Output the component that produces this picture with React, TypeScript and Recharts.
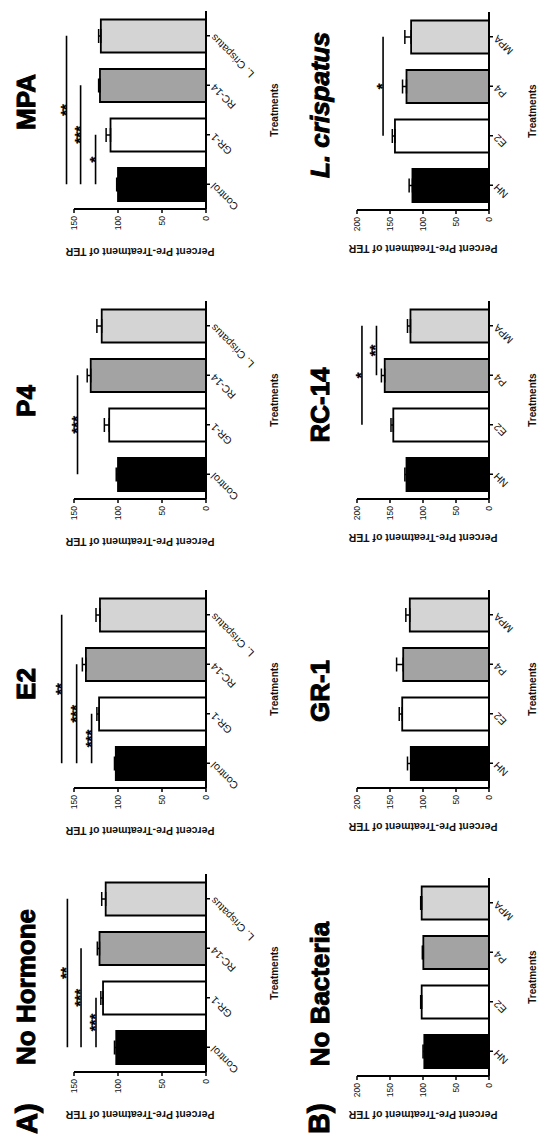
import { BarChart, Bar, XAxis, YAxis, ErrorBar, Cell, ReferenceLine } from "recharts";

// categories
const treatments = ["Control", "GR-1", "RC-14", "L. Crispatus"];
const hormones = ["NH", "E2", "P4", "MPA"];
const barFills = ["#000000", "#ffffff", "#a3a3a3", "#d4d4d4"];

// row A: hormone treatments, bars = bacteria
const noHormoneMean = [102, 117, 121, 114];
const noHormoneErr = [2, 2.5, 2.5, 4.5];
const e2Mean = [102.5, 121.5, 136.5, 120.5];
const e2Err = [1.5, 2.5, 4, 4.5];
const p4Mean = [100, 110, 131, 118.5];
const p4Err = [2, 5.5, 4, 5.5];
const mpaMean = [100, 108.5, 120.5, 119.5];
const mpaErr = [1.5, 5, 1.5, 2.5];

// row B: bacteria, bars = hormones
const noBacteriaMean = [98, 102, 99.5, 102];
const noBacteriaErr = [2, 1.5, 1.5, 1.5];
const gr1Mean = [118.5, 131.5, 130, 120];
const gr1Err = [5, 4.5, 10, 6];
const rc14Mean = [125, 145, 158, 119];
const rc14Err = [2.5, 3.5, 5, 4.5];
const lcrisMean = [116, 142.5, 125, 118];
const lcrisErr = [5, 4, 6, 9.5];

const ticksA = [0, 50, 100, 150];
const ticksB = [0, 50, 100, 150, 200];

type Sig = { from: string; to: string; y: number; label: string };

const noHormoneSig: Sig[] = [
  { from: "Control", to: "GR-1", y: 125, label: "***" },
  { from: "Control", to: "RC-14", y: 142, label: "***" },
  { from: "Control", to: "L. Crispatus", y: 157.5, label: "**" },
];
const e2Sig: Sig[] = [
  { from: "Control", to: "GR-1", y: 130, label: "***" },
  { from: "Control", to: "RC-14", y: 147, label: "***" },
  { from: "Control", to: "L. Crispatus", y: 164, label: "**" },
];
const p4Sig: Sig[] = [{ from: "Control", to: "RC-14", y: 146, label: "***" }];
const mpaSig: Sig[] = [
  { from: "Control", to: "GR-1", y: 125.5, label: "*" },
  { from: "Control", to: "RC-14", y: 142.5, label: "***" },
  { from: "Control", to: "L. Crispatus", y: 158.5, label: "**" },
];
const rc14Sig: Sig[] = [
  { from: "P4", to: "MPA", y: 170.5, label: "**" },
  { from: "E2", to: "MPA", y: 192.5, label: "*" },
];
const lcrisSig: Sig[] = [{ from: "E2", to: "MPA", y: 160.5, label: "*" }];

const build = (cats: string[], mean: number[], err: number[]) =>
  cats.map((name, i) => ({ name, value: mean[i], err: [0, err[i]] }));

const PLOT_W = 198;
const PLOT_H = 132;
const font = "'Liberation Sans', Arial, sans-serif";

const CatTick = (props: any) => {
  const { x, y, payload } = props;
  return (
    <text
      x={x}
      y={y}
      dy={3}
      transform={`rotate(-45 ${x} ${y})`}
      textAnchor="end"
      fontSize={10.5}
      fontFamily={font}
      fill="#111"
    >
      {payload.value}
    </text>
  );
};

function Panel({ x0, top, data, max, ticks, sigs }: any) {
  return (
    <div style={{ position: "absolute", left: x0 - 45, top: top - 30 }}>
      <BarChart
        width={45 + PLOT_W + 10}
        height={30 + PLOT_H + 50}
        data={data}
        margin={{ top: 30, right: 10, bottom: 0, left: 5 }}
        barSize={33}
      >
        <YAxis
          type="number"
          domain={[0, max]}
          ticks={ticks}
          width={40}
          tickSize={4}
          tickMargin={3}
          axisLine={{ stroke: "#000", strokeWidth: 2 }}
          tickLine={{ stroke: "#000", strokeWidth: 1.5 }}
          tick={{ fontSize: 8.5, fill: "#111", fontFamily: font }}
        />
        <XAxis
          dataKey="name"
          type="category"
          interval={0}
          height={50}
          tickSize={4}
          tickMargin={3}
          axisLine={{ stroke: "#000", strokeWidth: 2 }}
          tickLine={{ stroke: "#000", strokeWidth: 1.5 }}
          tick={<CatTick />}
        />
        <Bar dataKey="value" stroke="#000" strokeWidth={1.8} isAnimationActive={false}>
          {data.map((d: any, i: number) => (
            <Cell key={d.name} fill={barFills[i]} />
          ))}
          <ErrorBar dataKey="err" width={7} stroke="#000" strokeWidth={1.5} isAnimationActive={false} />
        </Bar>
        {sigs.map((s: Sig) => (
          <ReferenceLine
            key={s.from + s.to}
            segment={[
              { x: s.from, y: s.y },
              { x: s.to, y: s.y },
            ]}
            stroke="#000"
            strokeWidth={1.6}
            ifOverflow="visible"
            label={{
              value: s.label,
              position: "top",
              offset: -4,
              fontSize: 15,
              fontWeight: "bold",
              fill: "#000",
              stroke: "#000",
              strokeWidth: 0.3,
              fontFamily: font,
            }}
          />
        ))}
      </BarChart>
    </div>
  );
}

const rowA = [
  { x0: 65, title: "No Hormone", tx: 150, data: build(treatments, noHormoneMean, noHormoneErr), sigs: noHormoneSig },
  { x0: 349, title: "E2", tx: 453, data: build(treatments, e2Mean, e2Err), sigs: e2Sig },
  { x0: 638, title: "P4", tx: 736, data: build(treatments, p4Mean, p4Err), sigs: p4Sig },
  { x0: 928, title: "MPA", tx: 1035, data: build(treatments, mpaMean, mpaErr), sigs: mpaSig },
];
const rowB = [
  { x0: 61, title: "No Bacteria", tx: 143, data: build(hormones, noBacteriaMean, noBacteriaErr), sigs: [] },
  { x0: 349, title: "GR-1", tx: 446, data: build(hormones, gr1Mean, gr1Err), sigs: [] },
  { x0: 638, title: "RC-14", tx: 732, data: build(hormones, rc14Mean, rc14Err), sigs: rc14Sig },
  { x0: 927, title: "L. crispatus", tx: 1032, data: build(hormones, lcrisMean, lcrisErr), sigs: lcrisSig, italic: true },
];

const TOP_A = 74;
const TOP_B = 357;

export default function App() {
  const titleFont = "'Liberation Sans', Arial, sans-serif";
  const heavy = { fontWeight: "bold", fontFamily: titleFont, fill: "#000", stroke: "#000", strokeWidth: 1 } as const;
  return (
    <div style={{ position: "absolute", left: 0, top: 0, width: 538, height: 1137, overflow: "hidden", background: "#fff" }}>
      <div
        style={{
          position: "absolute",
          left: 0,
          top: 0,
          width: 1137,
          height: 538,
          transformOrigin: "0 0",
          transform: "translateY(1137px) rotate(-90deg)",
        }}
      >
        {rowA.map((p) => (
          <Panel key={p.title} x0={p.x0} top={TOP_A} data={p.data} max={150} ticks={ticksA} sigs={p.sigs} />
        ))}
        {rowB.map((p) => (
          <Panel key={p.title} x0={p.x0} top={TOP_B} data={p.data} max={200} ticks={ticksB} sigs={p.sigs} />
        ))}
        <svg width={1137} height={538} style={{ position: "absolute", left: 0, top: 0, pointerEvents: "none" }}>
          <text x={3} y={37} fontSize={29} {...heavy}>A)</text>
          <text x={3} y={329} fontSize={29} {...heavy}>B)</text>
          {rowA.map((p) => (
            <g key={p.title}>
              <text x={p.tx} y={35} textAnchor="middle" fontSize={26} {...heavy}>
                {p.title}
              </text>
              <text
                x={p.x0 - 39}
                y={TOP_A + PLOT_H / 2}
                transform={`rotate(-90 ${p.x0 - 39} ${TOP_A + PLOT_H / 2})`}
                textAnchor="middle"
                fontSize={10.5}
                fontWeight="bold"
                fontFamily={font}
                fill="#111"
              >
                Percent Pre-Treatment of TER
              </text>
              <text x={p.x0 + PLOT_W / 2} y={278} textAnchor="middle" fontSize={10} fontWeight="bold" fontFamily={font} fill="#111">
                Treatments
              </text>
            </g>
          ))}
          {rowB.map((p) => (
            <g key={p.title}>
              <text
                x={p.tx}
                y={329}
                textAnchor="middle"
                fontSize={26}
                fontStyle={p.italic ? "italic" : "normal"}
                {...heavy}
              >
                {p.title}
              </text>
              <text
                x={p.x0 - 35}
                y={TOP_B + PLOT_H / 2}
                transform={`rotate(-90 ${p.x0 - 35} ${TOP_B + PLOT_H / 2})`}
                textAnchor="middle"
                fontSize={10.5}
                fontWeight="bold"
                fontFamily={font}
                fill="#111"
              >
                Percent Pre-Treatment of TER
              </text>
              <text x={p.x0 + PLOT_W / 2} y={536} textAnchor="middle" fontSize={10} fontWeight="bold" fontFamily={font} fill="#111">
                Treatments
              </text>
            </g>
          ))}
        </svg>
      </div>
    </div>
  );
}
